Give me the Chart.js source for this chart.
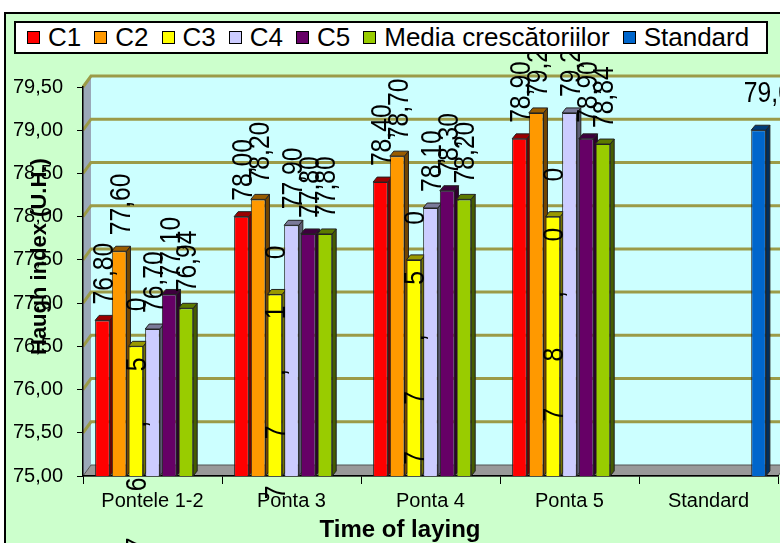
<!DOCTYPE html>
<html lang="ro">
<head>
<meta charset="UTF-8">
<title>Haugh index</title>
<script src="https://cdn.jsdelivr.net/npm/chart.js@4.4.0/dist/chart.umd.min.js"></script>
<style>
body{margin:0;background:#fff;font-family:"Liberation Sans",Arial,sans-serif}
#frame{position:absolute;left:4px;top:12px;width:820px;height:600px;border:2px solid #000;background:#ccffcc}
#box{position:absolute;left:0;top:0;width:780px;height:543px;overflow:hidden}
#chartBox{position:absolute;left:0;top:0;width:780px;height:543px}
#legend{position:absolute;left:14px;top:21px;width:739px;height:29px;border:2px solid #000;background:#fff;
  display:flex;align-items:center;padding-left:11px;box-sizing:content-box;font-size:26px;line-height:29px;white-space:nowrap}
#legend span.sw{display:inline-block;width:11px;height:11px;border:1px solid #000;margin-right:8px}
#legend span.it{display:inline-flex;align-items:center;margin-right:13px}
</style>
</head>
<body>
<div id="box">
  <div id="frame"></div>
  <div id="chartBox"><canvas id="hu"></canvas></div>
  <div id="legend"></div>
</div>

<script>
const categories = ['Pontele 1-2', 'Ponta 3', 'Ponta 4', 'Ponta 5', 'Standard'];
const c1       = [76.80, 78.00, 78.40, 78.90, null];
const c2       = [77.60, 78.20, 78.70, 79.20, null];
const c3       = [76.50, 77.10, 77.50, 78.00, null];
const c4       = [76.70, 77.90, 78.10, 79.20, null];
const c5       = [77.10, 77.80, 78.30, 78.90, null];
const media    = [76.94, 77.80, 78.20, 78.84, null];
const standard = [null, null, null, null, 79.00];

const seriesNames  = ['C1', 'C2', 'C3', 'C4', 'C5', 'Media crescătoriilor', 'Standard'];
const seriesValues = [c1, c2, c3, c4, c5, media, standard];
const seriesColors = ['#ff0000', '#ff9900', '#ffff00', '#ccccff', '#660066', '#99cc00', '#0066cc'];

const yTicks = {min: 75, max: 79.5, step: 0.5};

// 3D depth of the plot box and of the bars
const WALL = {dx: 8, dy: 11};
const BAR3D = {dx: 4, dy: 5};

const FONT = '"Liberation Sans", Arial, sans-serif';
const fmt = v => v.toFixed(2).replace('.', ',');

function shade(hex, k){
  const n = parseInt(hex.slice(1), 16);
  const r = Math.round(((n >> 16) & 255) * k), g = Math.round(((n >> 8) & 255) * k), b = Math.round((n & 255) * k);
  return `rgb(${r},${g},${b})`;
}

/* legend */
const lg = document.getElementById('legend');
seriesNames.forEach((name, i) => {
  const it = document.createElement('span');
  it.className = 'it';
  it.innerHTML = `<span class="sw" style="background:${seriesColors[i]}"></span>${name}`;
  lg.appendChild(it);
});

/* back wall, side wall, floor and grid lines */
const wallPlugin = {
  id: 'wall',
  beforeDraw(chart){
    const {ctx, chartArea: a, scales: {y}} = chart;
    const {dx, dy} = WALL;
    ctx.save();
    // back wall
    ctx.fillStyle = '#ccffff';
    ctx.fillRect(a.left + dx, a.top - dy, a.right - a.left, a.bottom - a.top);
    // left side wall
    ctx.fillStyle = '#9aa8b8';
    ctx.beginPath();
    ctx.moveTo(a.left, a.top); ctx.lineTo(a.left + dx, a.top - dy);
    ctx.lineTo(a.left + dx, a.bottom - dy); ctx.lineTo(a.left, a.bottom);
    ctx.closePath(); ctx.fill();
    // floor
    ctx.fillStyle = '#999999';
    ctx.beginPath();
    ctx.moveTo(a.left, a.bottom); ctx.lineTo(a.right, a.bottom);
    ctx.lineTo(a.right + dx, a.bottom - dy); ctx.lineTo(a.left + dx, a.bottom - dy);
    ctx.closePath(); ctx.fill();
    ctx.strokeStyle = '#555'; ctx.lineWidth = 1; ctx.stroke();
    // grid lines across side wall and back wall
    ctx.strokeStyle = '#9b9b48';
    ctx.lineWidth = 3;
    y.ticks.forEach(t => {
      if (t.value === yTicks.min) return;
      const py = y.getPixelForValue(t.value);
      ctx.beginPath();
      ctx.moveTo(a.left, py);
      ctx.lineTo(a.left + dx, py - dy);
      ctx.lineTo(a.right + dx, py - dy);
      ctx.stroke();
    });
    ctx.restore();
  }
};

/* top and side faces of the bars */
const bar3dPlugin = {
  id: 'bar3d',
  beforeDatasetsDraw(chart){
    const {ctx} = chart;
    const {dx, dy} = BAR3D;
    const base = chart.scales.y.getPixelForValue(yTicks.min);
    ctx.save();
    ctx.strokeStyle = '#222';
    ctx.lineWidth = 1;
    chart.data.datasets.forEach((ds, i) => {
      chart.getDatasetMeta(i).data.forEach((bar, j) => {
        if (ds.data[j] == null) return;
        const x0 = bar.x - bar.width / 2, x1 = bar.x + bar.width / 2;
        const top = bar.y;
        ctx.fillStyle = shade(seriesColors[i], 0.45);
        ctx.beginPath();
        ctx.moveTo(x1, top); ctx.lineTo(x1 + dx, top - dy);
        ctx.lineTo(x1 + dx, base - dy); ctx.lineTo(x1, base);
        ctx.closePath(); ctx.fill(); ctx.stroke();
        ctx.fillStyle = shade(seriesColors[i], 0.6);
        ctx.beginPath();
        ctx.moveTo(x0, top); ctx.lineTo(x0 + dx, top - dy);
        ctx.lineTo(x1 + dx, top - dy); ctx.lineTo(x1, top);
        ctx.closePath(); ctx.fill(); ctx.stroke();
      });
    });
    ctx.restore();
  }
};

/* value labels: vertical above the bars, C3 spread along its bar, Standard horizontal */
const labelPlugin = {
  id: 'values',
  afterDatasetsDraw(chart){
    const {ctx} = chart;
    const size = 29, squeeze = 0.85;
    ctx.save();
    ctx.fillStyle = '#000';
    ctx.font = `${size}px ${FONT}`;
    chart.data.datasets.forEach((ds, i) => {
      chart.getDatasetMeta(i).data.forEach((bar, j) => {
        const v = ds.data[j];
        if (v == null) return;
        const txt = fmt(v);
        if (seriesNames[i] === 'Standard') {
          ctx.save();
          ctx.translate(bar.x - bar.width, bar.y - 36);
          ctx.scale(squeeze, 1);
          ctx.textAlign = 'left';
          ctx.textBaseline = 'middle';
          ctx.fillText(txt, 0, 0);
          ctx.restore();
        } else if (seriesNames[i] === 'C3') {
          const chars = txt.split('');
          chars.forEach((ch, k) => {
            const cy = bar.y - 42 + (chars.length - 1 - k) * 60;
            ctx.save();
            ctx.translate(bar.x, cy);
            ctx.rotate(-Math.PI / 2);
            ctx.scale(squeeze, 1);
            ctx.textAlign = 'center';
            ctx.textBaseline = 'alphabetic';
            ctx.fillText(ch, 0, size * 0.358);
            ctx.restore();
          });
        } else {
          ctx.save();
          ctx.translate(bar.x, bar.y - 16);
          ctx.rotate(-Math.PI / 2);
          ctx.scale(squeeze, 1);
          ctx.textAlign = 'left';
          ctx.textBaseline = 'alphabetic';
          ctx.fillText(txt, 0, size * 0.358);
          ctx.restore();
        }
      });
    });
    ctx.restore();
  }
};

/* axis titles */
const titlePlugin = {
  id: 'titles',
  afterDraw(chart){
    const {ctx, chartArea: a} = chart;
    ctx.save();
    ctx.fillStyle = '#000';
    ctx.font = `bold 24px ${FONT}`;
    ctx.textAlign = 'center';
    ctx.textBaseline = 'alphabetic';
    ctx.fillText('Time of laying', a.left + 317, a.bottom + 61);
    ctx.font = `bold 22px ${FONT}`;
    ctx.translate(46, a.bottom - 121);
    ctx.rotate(-Math.PI / 2);
    ctx.textAlign = 'left';
    ctx.fillText('Haugh index (U.H.)', 0, 0);
    ctx.restore();
  }
};

new Chart(document.getElementById('hu'), {
  type: 'bar',
  data: {
    labels: categories,
    datasets: seriesValues.map((vals, i) => ({
      label: seriesNames[i],
      data: vals,
      backgroundColor: seriesColors[i],
      borderColor: '#222',
      borderWidth: 1,
      categoryPercentage: 0.84,
      barPercentage: 0.88
    }))
  },
  options: {
    responsive: true,
    maintainAspectRatio: false,
    animation: false,
    layout: {padding: {top: 87, right: 2, left: 0, bottom: 0}},
    plugins: {legend: {display: false}, tooltip: {enabled: false}},
    scales: {
      x: {
        grid: {drawOnChartArea: false, tickLength: 8, color: '#000'},
        border: {color: '#000', width: 1.5},
        ticks: {color: '#000', font: {family: FONT, size: 20}, padding: 5},
        afterFit: s => { s.height = 67; }
      },
      y: {
        min: yTicks.min, max: yTicks.max,
        grid: {drawOnChartArea: false, tickLength: 6, color: '#000'},
        border: {color: '#000', width: 1.5},
        ticks: {stepSize: yTicks.step, color: '#000', font: {family: FONT, size: 20}, padding: 14,
                callback: v => fmt(v)},
        afterFit: s => { s.width = 83; }
      }
    }
  },
  plugins: [wallPlugin, bar3dPlugin, labelPlugin, titlePlugin]
});
</script>
</body>
</html>
